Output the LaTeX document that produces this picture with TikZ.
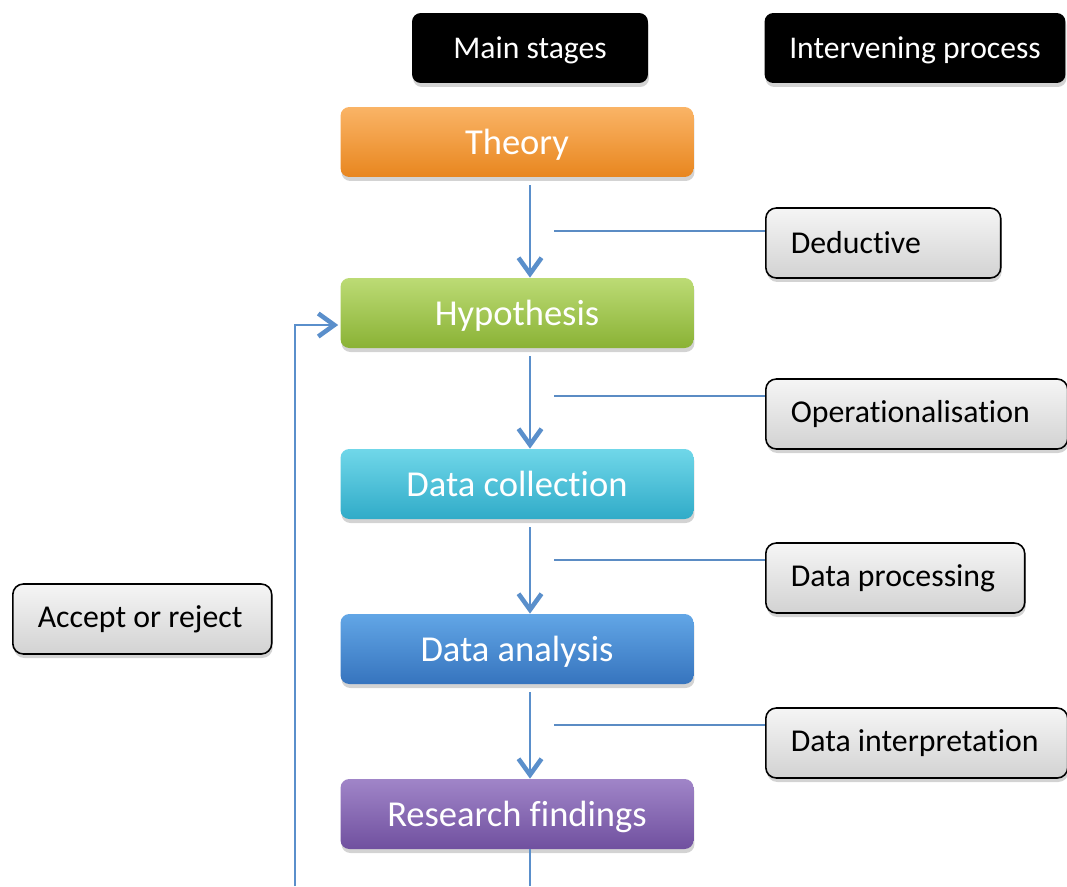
\documentclass[tikz,border=0pt]{standalone}
\usepackage{fontspec}
\setmainfont{Carlito}[Ligatures=NoCommon]
\usetikzlibrary{positioning,arrows.meta,calc,shadows}
\definecolor{arrow}{HTML}{5A8FCB}
\definecolor{thin}{HTML}{5B8CC4}
\definecolor{orgtop}{HTML}{FAB466}
\definecolor{orgbot}{HTML}{E8861F}
\definecolor{grntop}{HTML}{BCDB75}
\definecolor{grnbot}{HTML}{8AB235}
\definecolor{cyntop}{HTML}{70D7E9}
\definecolor{cynbot}{HTML}{30ABC8}
\definecolor{blutop}{HTML}{62A6E6}
\definecolor{blubot}{HTML}{3674BE}
\definecolor{purtop}{HTML}{A085C8}
\definecolor{purbot}{HTML}{70509F}
\definecolor{grytop}{HTML}{F5F5F5}
\definecolor{grybot}{HTML}{D2D2D2}

\begin{document}
\begin{tikzpicture}[x=0.02cm,y=-0.02cm,
  shade/.style={drop shadow={shadow xshift=0.02cm,shadow yshift=-0.08cm,opacity=0.35}},
  hdr/.style={shade,fill=black,text=white,rounded corners=5pt,minimum width=4.72cm,minimum height=1.4cm,text depth=0pt,font=\fontsize{18}{20}\selectfont},
  stage/.style 2 args={shade,top color=#1,bottom color=#2,rounded corners=5pt,minimum width=7.06cm,minimum height=1.4cm,text depth=0pt,text=white,font=\fontsize{20.8}{24}\selectfont},
  proc/.style={shade,anchor=west,top color=grytop,bottom color=grybot,draw=black,line width=0.9pt,rounded corners=6pt,inner xsep=0.5cm,text width=#1,align=flush left,minimum height=1.4cm,font=\fontsize{18.1}{20}\selectfont},
  flow/.style={draw=arrow,line width=1.6pt,-{Straight Barb[length=0.32cm,width=0.46cm,line width=2.6pt]}},
  link/.style={draw=thin,line width=0.6pt}]
\useasboundingbox (0,0) rectangle (1067,886);

% column heads
\node[hdr] (mainhd) at (530,48){Main stages};
\node[hdr,minimum width=6.02cm] (prochd) at (915,48){Intervening process};

% main stages
\node[stage={orgtop}{orgbot}] (theory) at (517,142){Theory};
\node[stage={grntop}{grnbot}] (hyp) at (517,313){Hypothesis};
\node[stage={cyntop}{cynbot}] (coll) at (517,484){Data collection};
\node[stage={blutop}{blubot}] (anal) at (517,649){Data analysis};
\node[stage={purtop}{purbot}] (find) at (517,814){Research findings};

% intervening processes
\node[proc=3.7cm] (ded) at (765,243){Deductive};
\node[proc=5.04cm] (oper) at (765,414){Operationalisation};
\node[proc=4.18cm] (dproc) at (765,578){Data processing};
\node[proc=5.04cm] (interp) at (765,743){Data interpretation};
\node[proc=4.18cm] (accept) at (12,619){Accept or reject};

% arrows between stages
\draw[flow] ($(theory.south)+(13,8)$) -- ($(hyp.north)+(13,0)$);
\draw[flow] ($(hyp.south)+(13,8)$) -- ($(coll.north)+(13,0)$);
\draw[flow] ($(coll.south)+(13,8)$) -- ($(anal.north)+(13,0)$);
\draw[flow] ($(anal.south)+(13,8)$) -- ($(find.north)+(13,0)$);
\coordinate (out) at (530,886);
\draw[draw=arrow,line width=1pt] ($(find.south)+(13,0)$) -- (out);

% links to processes
\coordinate (l1) at (554,231);
\coordinate (l2) at (554,396);
\coordinate (l3) at (554,560);
\coordinate (l4) at (554,725);
\draw[link] (l1) -- (ded.west |- l1);
\draw[link] (l2) -- (oper.west |- l2);
\draw[link] (l3) -- (dproc.west |- l3);
\draw[link] (l4) -- (interp.west |- l4);

% feedback
\coordinate (back) at (295,886);
\draw[link,line width=1pt,-{Straight Barb[length=0.32cm,width=0.46cm,line width=2.6pt]},draw=arrow] (back) |- ($(hyp.west)+(-2,12)$);
\end{tikzpicture}
\end{document}
